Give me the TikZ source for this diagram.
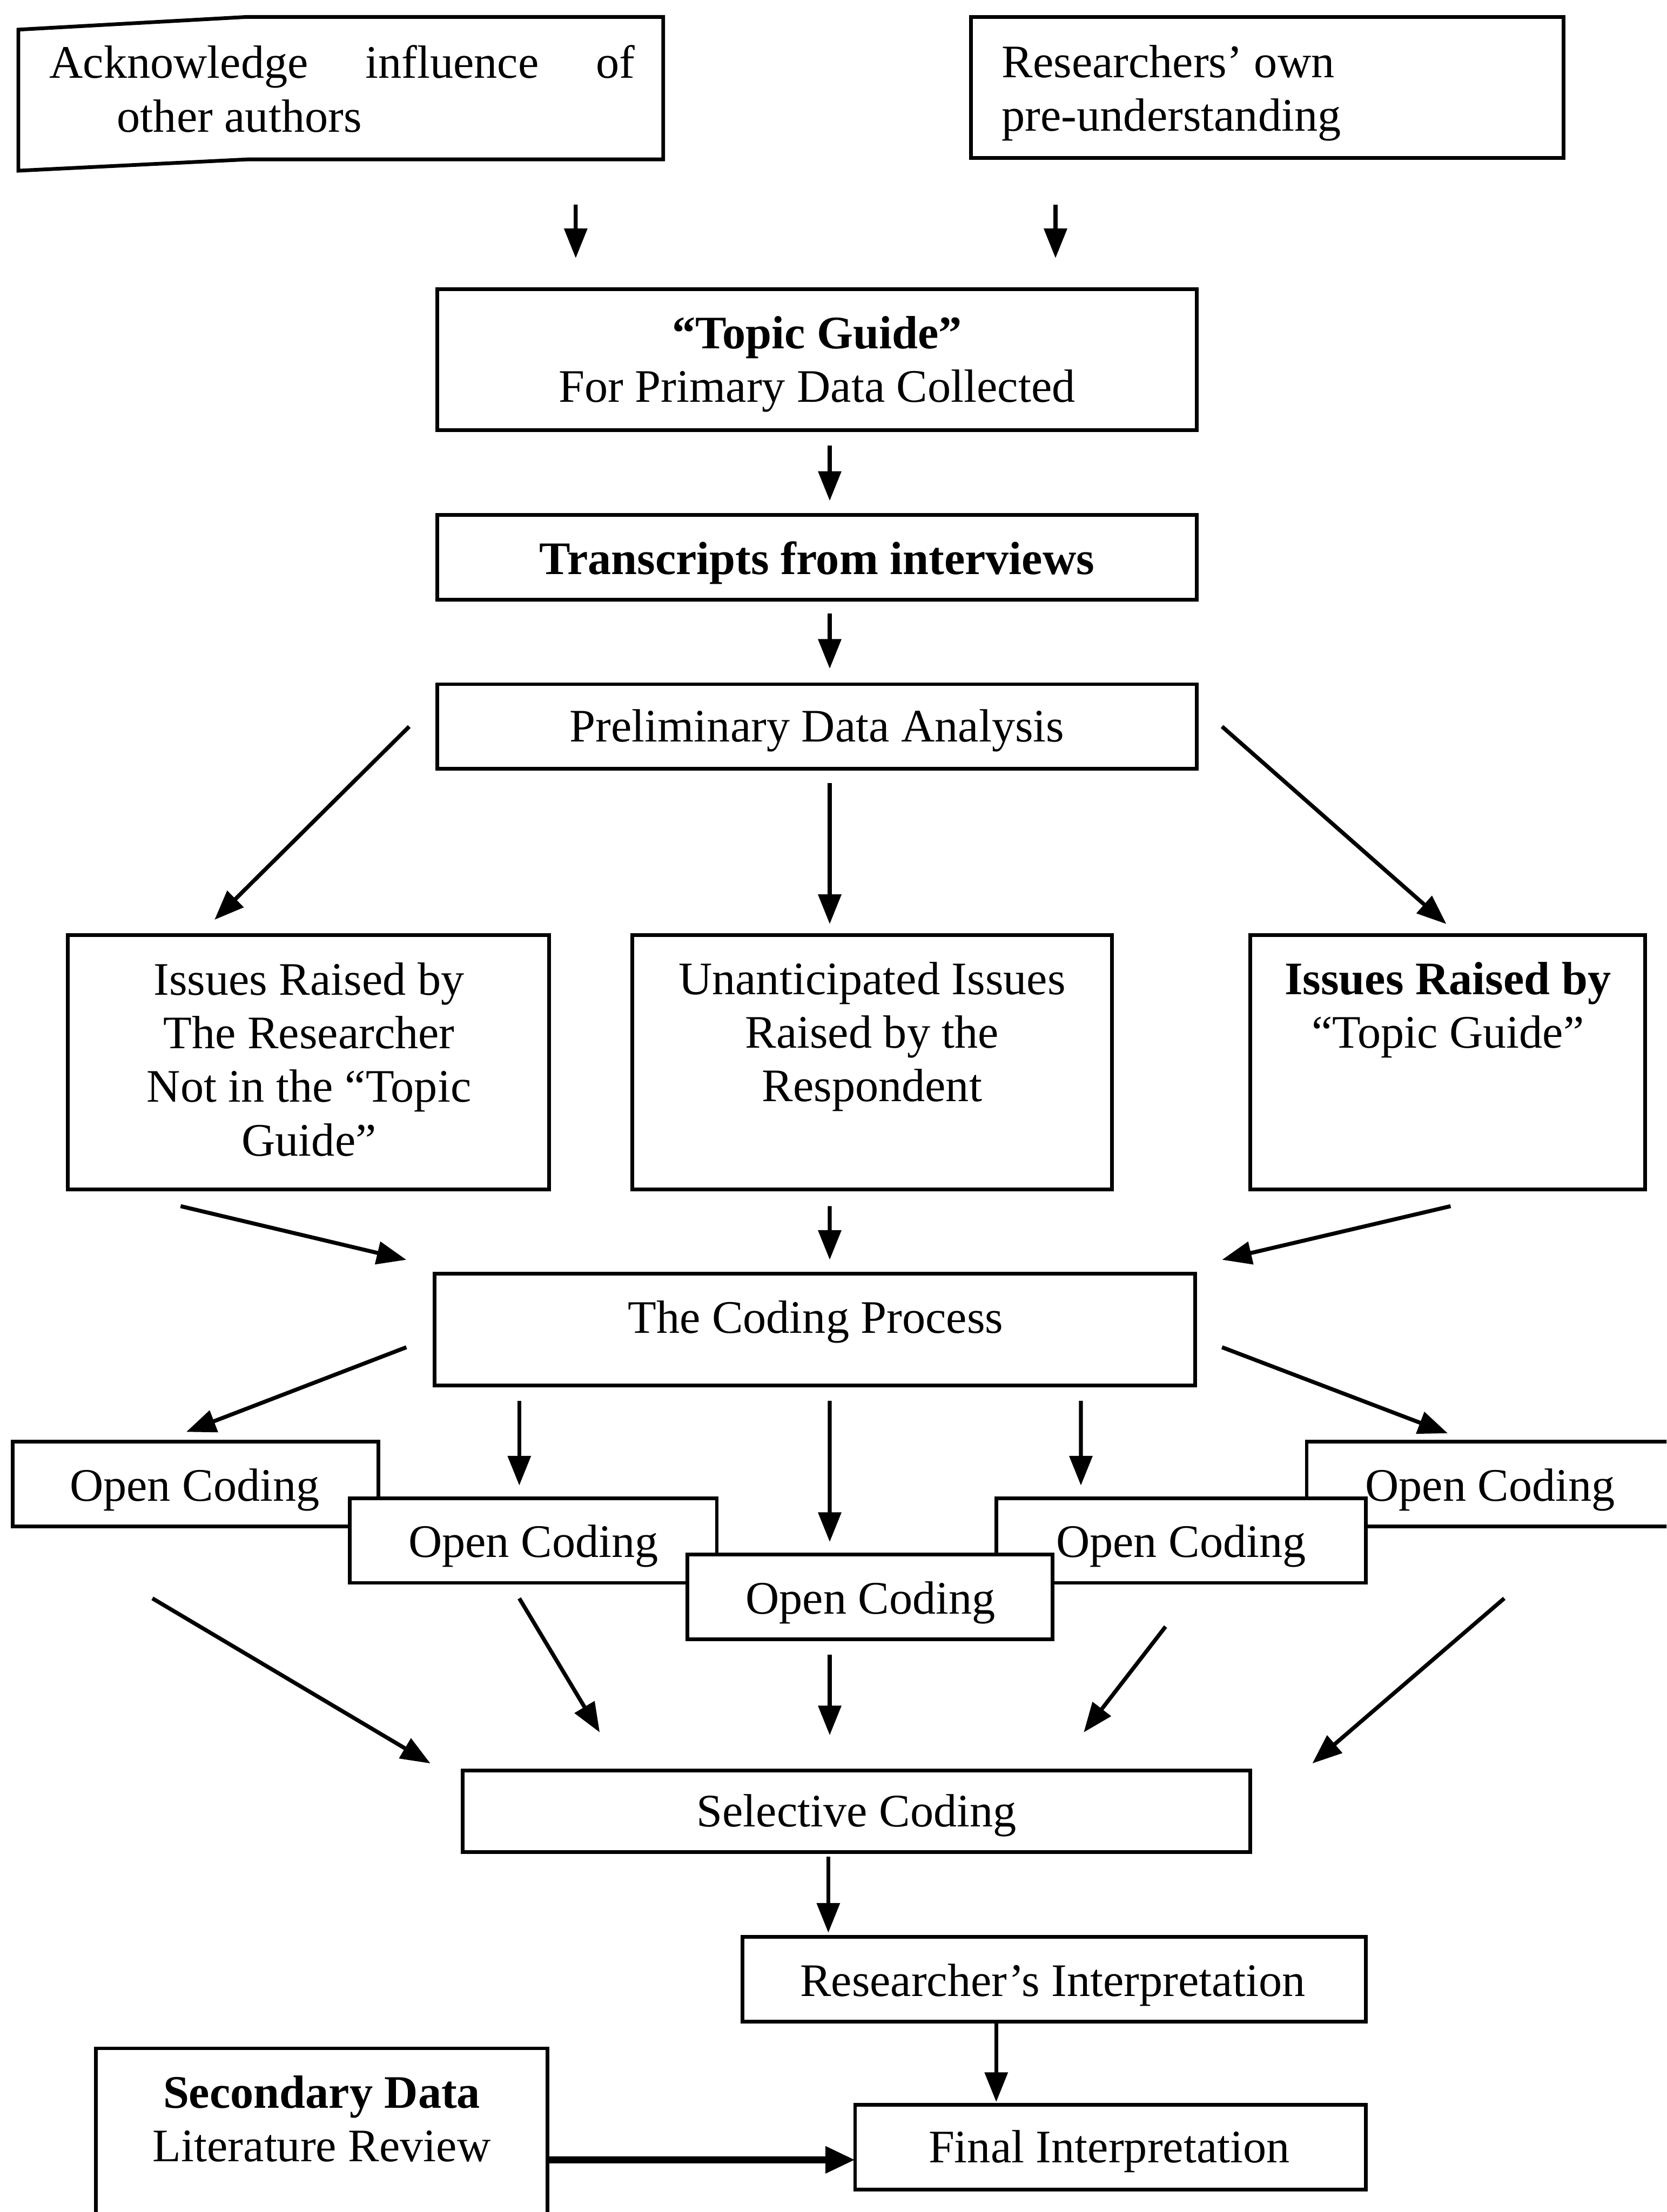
\documentclass[tikz,border=0pt]{standalone}
\usepackage{fontspec}
\setmainfont{Liberation Serif}
\usetikzlibrary{arrows.meta,calc}
\tikzset{
  frame/.style={line width=1.5pt},
  box/.style={draw, frame, fill=white, inner sep=0pt, outer sep=0pt},
  ghost/.style={inner sep=0pt, outer sep=0pt},
  txt/.style={inner sep=0pt, outer sep=0pt, align=center, font=\fontsize{18.8}{21.6}\selectfont},
  arr/.style={line width=1.6pt, -{Triangle[length=0.42cm,width=0.32cm]}},
  fatarr/.style={line width=2.8pt, -{Triangle[length=0.42cm,width=0.36cm]}},
}
% rectangle node given by left, top, right, bottom (y grows downwards)
\newcommand\boxnode[6][box]{%
  \node[#1, minimum width={(#5-#3)*0.02cm}, minimum height={(#6-#4)*0.02cm}]
    (#2) at ({(#3+#5)/2},{(#4+#6)/2}) {};}
\begin{document}
\begin{tikzpicture}[x=0.02cm, y=-0.02cm]
\useasboundingbox (0,0) rectangle (1181,1568);
\clip (0,0) rectangle (1181,1568);
\fill[white] (0,0) rectangle (1181,1568);

% --- top inputs ---
\boxnode[ghost]{ack}{13}{12}{470}{113}
\draw[frame] (ack.north east) -- (ack.south east) -- (175,113) -- (13,121)
  -- (13,21) -- (175,12) -- cycle;
\node[txt, align=left, anchor=west] (ack-t) at (35,63)
  {\makebox[8.3cm][s]{Acknowledge influence of}\\\hspace*{0.96cm}other authors};

\boxnode{pre}{688}{12}{1108}{112}
\node[txt, align=left, anchor=west] (pre-t) at (710,66)
  {Researchers’ own\\pre-understanding};

% --- main column ---
\boxnode{tg}{310}{205}{848}{305}
\node[txt] (tg-t) at (579,258) {\textbf{“Topic Guide”}\\For Primary Data Collected};

\boxnode{tr}{310}{365}{848}{425}
\node[txt] (tr-t) at (579,399) {\textbf{Transcripts from interviews}};

\boxnode{pa}{310}{485}{848}{545}
\node[txt] (pa-t) at (579,518) {Preliminary Data Analysis};

% --- three kinds of issues ---
\boxnode{il}{48}{663}{389}{843}
\node[txt] (il-t) at (219,751) {Issues Raised by\\The Researcher\\Not in the “Topic\\Guide”};

\boxnode{im}{448}{663}{788}{843}
\node[txt] (im-t) at (618,735) {Unanticipated Issues\\Raised by the\\Respondent};

\boxnode{ir}{886}{663}{1166}{843}
\node[txt] (ir-t) at (1026,716) {\textbf{Issues Raised by}\\“Topic Guide”};

\boxnode{cp}{308}{903}{847}{982}
\node[txt] (cp-t) at (578,937) {The Coding Process};

% --- open coding, stacked ---
\boxnode{oc1}{9}{1022}{268}{1082}
\node[txt] (oc1-t) at (138,1056) {Open Coding};
\boxnode{oc5}{926}{1022}{1200}{1082}
\node[txt] (oc5-t) at (1056,1056) {Open Coding};
\boxnode{oc2}{248}{1062}{508}{1122}
\node[txt] (oc2-t) at (378,1096) {Open Coding};
\boxnode{oc4}{706}{1062}{968}{1122}
\node[txt] (oc4-t) at (837,1096) {Open Coding};
\boxnode{oc3}{487}{1102}{746}{1162}
\node[txt] (oc3-t) at (617,1136) {Open Coding};

% --- synthesis ---
\boxnode{sc}{328}{1255}{886}{1313}
\node[txt] (sc-t) at (607,1287) {Selective Coding};

\boxnode{ri}{526}{1373}{968}{1433}
\node[txt] (ri-t) at (746,1407) {Researcher’s Interpretation};

\boxnode{fi}{606}{1492}{968}{1552}
\node[txt] (fi-t) at (786,1525) {Final Interpretation};

\boxnode{sd}{68}{1452}{388}{1600}
\node[txt] (sd-t) at (228,1502) {\textbf{Secondary Data}\\Literature Review};

% --- connectors ---
\draw[arr] ($(ack.south)+(166.5,32)$) -- ($(tg.north)+(-171,-22)$);
\draw[arr] ($(pre.south)+(-150,33)$) -- ($(tg.north)+(169,-22)$);
\draw[arr] ($(tg.south)+(9,11)$) -- ($(tr.north)+(9,-10)$);
\draw[arr] ($(tr.south)+(9,10)$) -- ($(pa.north)+(9,-11)$);

\draw[arr] ($(pa.west)+(-20,0)$) -- ($(il.north)+(-66.5,-11)$);
\draw[arr] ($(pa.south)+(9,10)$) -- ($(im.north)+(-30,-8)$);
\draw[arr] ($(pa.east)+(18,0)$) -- ($(ir.north)+(-1,-8)$);

\draw[arr] ($(il.south)+(-90.5,12)$) -- ($(cp.west)+(-20,-49.5)$);
\draw[arr] ($(im.south)+(-30,12)$) -- ($(cp.north)+(10.5,-10)$);
\draw[arr] ($(ir.south)+(2,12)$) -- ($(cp.east)+(19,-49.5)$);

\draw[arr] ($(cp.west)+(-20,12.5)$) -- ($(oc1.north)+(-6.5,-7)$);
\draw[arr] ($(cp.south)+(-209.5,11)$) -- ($(oc2.north)+(-10,-9)$);
\draw[arr] ($(cp.south)+(10.5,11)$) -- ($(oc3.north)+(-28.5,-9)$);
\draw[arr] ($(cp.south)+(188.5,11)$) -- ($(oc4.north)+(-71,-9)$);
\draw[arr] ($(cp.east)+(19,12.5)$) -- ($(oc5.north)+(-37,-6)$);

\draw[arr] ($(oc1.south)+(-30.5,51)$) -- ($(sc.west)+(-23,-34)$);
\draw[arr] ($(oc2.south)+(-10,11)$) -- ($(sc.north)+(-182,-27)$);
\draw[arr] ($(oc3.south)+(-28.5,11)$) -- ($(sc.north)+(-19,-25)$);
\draw[arr] ($(oc4.south)+(-11,31)$) -- ($(sc.north)+(161,-27)$);
\draw[arr] ($(oc5.south)+(3,51)$) -- ($(sc.east)+(44,-34)$);

\draw[arr] ($(sc.south)+(-20,3)$) -- ($(ri.north)+(-160,-3)$);
\draw[arr] ($(ri.south)+(-41,0)$) -- ($(fi.north)+(-81,-2)$);
\draw[fatarr] ($(sd.east)+(0,5)$) -- ($(fi.west)+(0,9)$);
\end{tikzpicture}
\end{document}
